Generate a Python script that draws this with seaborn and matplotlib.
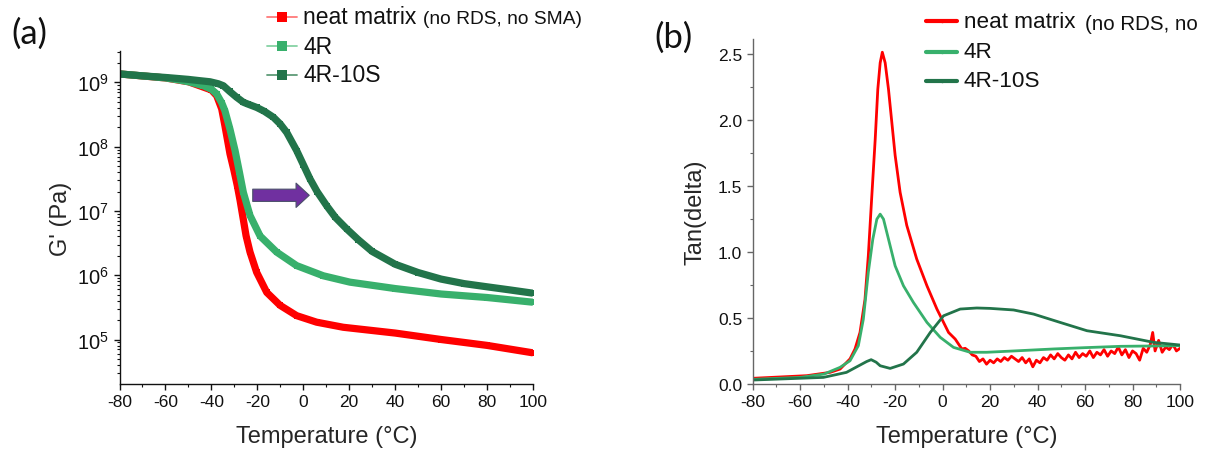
import numpy as np
import pandas as pd
import matplotlib
matplotlib.use("Agg")
import matplotlib.pyplot as plt
import matplotlib.ticker as mticker
from matplotlib.lines import Line2D
import seaborn as sns

# ---------------- data ----------------
# Panel (a): storage modulus G' (Pa) vs temperature (degC)
T_neat_G = [-80, -60, -50, -40, -37.7, -35.5, -34.1, -31.9, -30.2, -28.7, -27.5, -26.4,
            -24.9, -23.2, -20.3, -15.9, -10.1, -2.9, 5.8, 17.4, 40, 60, 80, 100]
G_neat = [1.35e9, 1.17e9, 1.02e9, 7.6e8, 6.2e8, 3.85e8, 2.1e8, 7.7e7, 4.3e7, 2.45e7, 1.45e7, 8.5e6,
          4.1e6, 2.3e6, 1.11e6, 5.4e5, 3.4e5, 2.35e5, 1.86e5, 1.55e5, 1.26e5, 1.0e5, 8.1e4, 6.2e4]

T_4R_G = [-80, -70, -60, -55, -50, -43.5, -40, -37.7, -35.5, -34.1, -31.9, -29.7, -27.8,
          -26.1, -23.2, -18.8, -11.6, -2.9, 8.7, 20.3, 40, 60, 80, 100]
G_4R = [1.35e9, 1.26e9, 1.17e9, 1.1e9, 1.02e9, 8.85e8, 7.8e8, 6.6e8, 4.8e8, 3.6e8, 1.86e8, 8.7e7, 4.0e7,
        1.95e7, 8.5e6, 4.07e6, 2.29e6, 1.41e6, 9.8e5, 7.8e5, 6.2e5, 5.1e5, 4.5e5, 3.8e5]

T_4R10S_G = [-80, -70, -60, -55, -50, -45, -40.6, -37, -34.8, -32, -29, -26.1, -24, -20.3, -17,
             -13, -10, -7.2, -2.9, 0, 2.9, 6, 10.2, 14, 18.9, 24, 30, 40, 50, 60, 70, 80, 90, 100]
G_4R10S = [1.35e9, 1.26e9, 1.19e9, 1.15e9, 1.11e9, 1.06e9, 1.02e9, 9.5e8, 8.85e8, 7.2e8, 5.85e8, 4.9e8,
           4.57e8, 4.07e8, 3.55e8, 2.86e8, 2.24e8, 1.66e8, 8.7e7, 5.25e7, 3.16e7, 2.0e7, 1.2e7, 7.9e6,
           5.25e6, 3.55e6, 2.34e6, 1.48e6, 1.1e6, 8.7e5, 7.4e5, 6.6e5, 5.9e5, 5.25e5]

# Panel (b): tan(delta) vs temperature (degC)
T_neat_tan = [-80, -57.2, -47.4, -43.2, -39.0, -36.9, -34.8, -32.7, -31.3, -29.9, -28.4, -27.3,
              -26.3, -25.4, -24.2, -22.8, -21.4, -20.0, -17.9, -15.1, -10.9, -6.6, -2.4, 0.4,
              2.5, 5.3, 8.1, 9.5, 11, 12.5, 14,
              15.5, 17, 18.5, 20, 21.5, 23, 24.5, 26, 27.5, 29, 30.5, 32, 33.5, 35, 36.5, 38,
              39.5, 41, 42.5, 44, 45.5, 47, 48.5, 50, 51.5, 53, 54.5, 56, 57.5, 59, 60.5, 62,
              63.5, 65, 66.5, 68, 69.5, 71, 72.5, 74, 75.5, 77, 78.5, 80, 81.5, 83, 84.5, 86,
              87.5, 88.5, 89.5, 91, 92.5, 94, 95.5, 97, 98.5, 100]
tan_neat = [0.043, 0.063, 0.088, 0.113, 0.19, 0.265, 0.39, 0.64, 0.97, 1.40, 1.85, 2.23,
            2.43, 2.51, 2.43, 2.23, 1.98, 1.73, 1.45, 1.20, 0.945, 0.743, 0.567, 0.466,
            0.39, 0.34, 0.265, 0.27, 0.25, 0.22,
            0.21, 0.17, 0.19, 0.15, 0.18, 0.16, 0.19, 0.17, 0.20, 0.18, 0.21, 0.19, 0.17, 0.20,
            0.16, 0.19, 0.13, 0.18, 0.16, 0.20, 0.18, 0.22, 0.19, 0.23, 0.20, 0.18, 0.22, 0.19,
            0.24, 0.20, 0.23, 0.21, 0.25, 0.20, 0.24, 0.22, 0.26, 0.21, 0.25, 0.23, 0.28, 0.22,
            0.26, 0.20, 0.25, 0.23, 0.18, 0.27, 0.24, 0.30, 0.39, 0.25, 0.33, 0.24, 0.28, 0.26,
            0.30, 0.25, 0.27]

T_4R_tan = [-80, -60, -50, -43.2, -39.0, -35.5, -33.4, -31.3, -29.4, -27.7, -26.3, -24.9,
            -22.8, -20.0, -16.5, -12.3, -6.6, -1.0, 4.6, 11.6, 18.6, 30, 46.7, 60, 74.9, 100]
tan_4R = [0.035, 0.05, 0.075, 0.126, 0.176, 0.29, 0.49, 0.845, 1.096, 1.247, 1.285, 1.247,
          1.096, 0.894, 0.743, 0.617, 0.466, 0.353, 0.277, 0.24, 0.24, 0.25, 0.265, 0.275,
          0.285, 0.29]

T_4R10S_tan = [-80, -50.2, -40.5, -34.8, -32, -30.1, -28, -26.3, -22.1, -16.5, -10.9, -5.2,
               0.4, 7.4, 14.4, 20, 29.9, 38.3, 49.5, 60.8, 74.9, 88.9, 100]
tan_4R10S = [0.03, 0.05, 0.088, 0.143, 0.17, 0.184, 0.165, 0.138, 0.118, 0.151, 0.24, 0.39,
             0.516, 0.567, 0.575, 0.572, 0.56, 0.529, 0.466, 0.403, 0.365, 0.315, 0.295]

labels = ["neat matrix", "4R", "4R-10S"]
label_note_a = "(no RDS, no SMA)"
label_note_b = "(no RDS, no"
x_ticks = [-80, -60, -40, -20, 0, 20, 40, 60, 80, 100]

RED = "#FF0000"
MID = "#38B06C"
DARK = "#22744A"

# ---------------- style ----------------
sns.set_theme(style="ticks")
plt.rcParams["font.family"] = ["Liberation Sans", "DejaVu Sans"]
plt.rcParams["mathtext.fontset"] = "custom"
plt.rcParams["mathtext.rm"] = "Liberation Sans"
plt.rcParams["mathtext.it"] = "Liberation Sans:italic"
plt.rcParams["mathtext.bf"] = "Liberation Sans:bold"
plt.rcParams["axes.unicode_minus"] = False

W, H = 1207, 452
fig = plt.figure(figsize=(W / 100, H / 100), dpi=100)

def fx(px):
    return px / W

def fy(py):
    return 1 - py / H

axA = fig.add_axes([fx(119.5), fy(385), fx(533) - fx(119.5), fy(52) - fy(385)])
axB = fig.add_axes([fx(752.7), fy(385), fx(1180) - fx(752.7), fy(40) - fy(385)])

# ---------------- panel (a) ----------------
dfs_a = [
    (pd.DataFrame({"T": T_neat_G, "G": G_neat}), RED),
    (pd.DataFrame({"T": T_4R_G, "G": G_4R}), MID),
    (pd.DataFrame({"T": T_4R10S_G, "G": G_4R10S}), DARK),
]
for d, c in dfs_a:
    sns.lineplot(data=d, x="T", y="G", ax=axA, color=c, linewidth=5.2, marker="s",
                 markersize=5.0, markeredgewidth=0, estimator=None, sort=False, legend=False,
                 solid_joinstyle="round", solid_capstyle="butt")

axA.set_yscale("log")
axA.set_xlim(-80, 100)
axA.set_ylim(10 ** 4.308, 10 ** 9.487)
axA.yaxis.set_major_locator(mticker.LogLocator(base=10, numticks=20))
axA.yaxis.set_minor_locator(mticker.LogLocator(base=10, subs=np.arange(2, 10), numticks=20))
axA.yaxis.set_minor_formatter(mticker.NullFormatter())
axA.set_xlabel("Temperature (°C)", fontsize=17, labelpad=11)
axA.set_ylabel("G' (Pa)", fontsize=17, labelpad=4)

# arrow indicating shift
axA.annotate("", xy=(2.6, 1.75e7), xytext=(-22.0, 1.75e7),
             arrowprops=dict(arrowstyle="simple,head_length=0.95,head_width=1.75,tail_width=0.88",
                             mutation_scale=10, fc="#7030A0", ec="#4a4f6a", lw=0.8,
                             shrinkA=0, shrinkB=0))

# ---------------- panel (b) ----------------
dfs_b = [
    (pd.DataFrame({"T": T_neat_tan, "v": tan_neat}), RED),
    (pd.DataFrame({"T": T_4R_tan, "v": tan_4R}), MID),
    (pd.DataFrame({"T": T_4R10S_tan, "v": tan_4R10S}), DARK),
]
for d, c in dfs_b:
    sns.lineplot(data=d, x="T", y="v", ax=axB, color=c, linewidth=2.0,
                 estimator=None, sort=False, legend=False, solid_joinstyle="round")

axB.set_xlim(-80, 100)
axB.set_ylim(0, 2.61)
axB.yaxis.set_major_locator(mticker.MultipleLocator(0.5))
axB.yaxis.set_minor_locator(mticker.MultipleLocator(0.25))
axB.yaxis.set_major_formatter(mticker.FormatStrFormatter("%.1f"))
axB.set_xlabel("Temperature (°C)", fontsize=17, labelpad=11)
axB.set_ylabel("Tan(delta)", fontsize=17, labelpad=8)

for ax, sc in ((axA, "#111111"), (axB, "#666666")):
    ax.set_xticks(x_ticks)
    ax.xaxis.set_minor_locator(mticker.MultipleLocator(10))
    for s in ("top", "right"):
        ax.spines[s].set_visible(False)
    for s in ("left", "bottom"):
        ax.spines[s].set_color(sc)
        ax.spines[s].set_linewidth(1.0)
    ax.tick_params(which="major", direction="out", length=4.5, width=1.0, color=sc,
                   labelsize=12.5, labelcolor="#111111", pad=3)
    ax.tick_params(which="minor", direction="out", length=2.5, width=0.8, color=sc)
    ax.set_facecolor("white")
axA.tick_params(axis="y", which="major", labelsize=14.5)

# ---------------- legends (drawn in figure pixels) ----------------
def legend_rows(x0, x1, xt, ys, lw, ms, line_cols, mk_cols, marker, fs):
    for lab, y, lc, mc in zip(labels, ys, line_cols, mk_cols):
        fig.add_artist(Line2D([fx(x0), fx(x1)], [fy(y), fy(y)], color=lc, lw=lw,
                              transform=fig.transFigure))
        fig.add_artist(Line2D([fx((x0 + x1) / 2)], [fy(y)], color=mc, marker=marker,
                              markersize=ms, markeredgewidth=0, transform=fig.transFigure))
        fig.text(fx(xt), fy(y), lab, fontsize=fs, va="center", ha="left", color="#111111")

legend_rows(267, 297, 303, [18, 47, 76], 1.3, 7,
            ["#FF7A7A", "#86D2A4", "#5E9B77"], [RED, MID, DARK], "s", 16.5)
fig.text(fx(423), fy(20), label_note_a, fontsize=13.8, va="center", ha="left", color="#111111")

legend_rows(926, 957, 964, [22, 53, 82], 3.0, 2.5,
            [RED, MID, DARK], [RED, MID, DARK], "o", 16.2)
fig.text(fx(1085), fy(24), label_note_b, fontsize=14.8, va="center", ha="left", color="#111111")

# panel letters
fig.text(fx(11), fy(34), "(a)", fontsize=25, family=["Lato", "DejaVu Sans"],
         va="center", ha="left", color="#111111")
fig.text(fx(654), fy(38), "(b)", fontsize=25, family=["Lato", "DejaVu Sans"],
         va="center", ha="left", color="#111111")

fig.savefig("out.png", dpi=100, facecolor="white")
